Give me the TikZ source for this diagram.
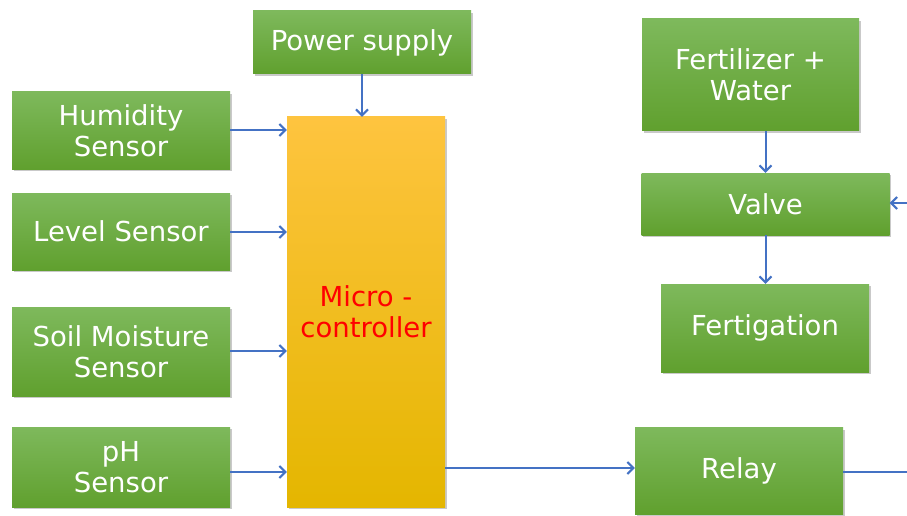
\documentclass[tikz,border=0pt]{standalone}
\usepackage{fontspec}
\setmainfont{DejaVu Sans}
\usetikzlibrary{arrows.meta,shadows,calc}
\definecolor{gtop}{HTML}{7EB95C}
\definecolor{gbot}{HTML}{60A02E}
\definecolor{ytop}{HTML}{FEC43F}
\definecolor{ybot}{HTML}{E4B600}
\definecolor{arr}{HTML}{4472C4}
\definecolor{txtred}{HTML}{FF0000}
\tikzset{
  gbox/.style={rectangle, top color=gtop, bottom color=gbot, draw=none,
    text=white, align=center, inner sep=0pt,
    font=\fontsize{27.5}{31}\selectfont,
    drop shadow={shadow xshift=1.5pt, shadow yshift=-2pt, opacity=0.35, fill=black!60}},
  ybox/.style={gbox, top color=ytop, bottom color=ybot, text=txtred},
  conn/.style={draw=arr, line width=2pt, -{Straight Barb[length=6pt,width=12pt,line width=2pt]}},
  plain/.style={draw=arr, line width=2pt}
}
\begin{document}
\begin{tikzpicture}[x=1pt,y=-1pt]
\useasboundingbox[fill=white] (0,0) rectangle (907,516);
\node[gbox, minimum width=218pt, minimum height=63pt] (power) at (362,42.5) {Power supply};
\node[gbox, minimum width=218pt, minimum height=77pt] (hum) at (121,130.5) {Humidity\\Sensor};
\node[gbox, minimum width=218pt, minimum height=77pt] (level) at (121,231.5) {Level Sensor};
\node[gbox, minimum width=218pt, minimum height=89pt] (soil) at (121,351.5) {Soil Moisture\\Sensor};
\node[gbox, minimum width=218pt, minimum height=80pt] (ph) at (121,467) {pH\\Sensor};
\node[ybox, minimum width=158pt, minimum height=390pt] (micro) at (366,312) {Micro -\\controller};
\node[gbox, minimum width=217pt, minimum height=112pt] (fert) at (750.5,75) {Fertilizer +\\Water};
\node[gbox, minimum width=248pt, minimum height=62pt] (valve) at (765.5,204) {Valve};
\node[gbox, minimum width=208pt, minimum height=88pt] (fertig) at (765,328) {Fertigation};
\node[gbox, minimum width=208pt, minimum height=87pt] (relay) at (739,471) {Relay};
\coordinate (vin) at (907,203);
\coordinate (rout) at (907,472);
\draw[conn] (power.south) -- (power.south |- micro.north);
\draw[conn] ($(hum.east)+(0,-0.5)$) -- ($(hum.east -| micro.west)+(0,-0.5)$);
\draw[conn] ($(level.east)+(0,0.5)$) -- ($(level.east -| micro.west)+(0,0.5)$);
\draw[conn] ($(soil.east)+(0,-0.5)$) -- ($(soil.east -| micro.west)+(0,-0.5)$);
\draw[conn] ($(ph.east)+(0,5)$) -- ($(ph.east -| micro.west)+(0,5)$);
\draw[conn] ($(relay.west -| micro.east)+(0,-3)$) -- ($(relay.west)+(0,-3)$);
\draw[conn] (fert.south -| valve.north) -- (valve.north);
\draw[conn] (valve.south) -- (valve.south |- fertig.north);
\draw[conn] (vin) -- (vin -| valve.east);
\draw[plain] (rout -| relay.east) -- (rout);
\end{tikzpicture}
\end{document}
